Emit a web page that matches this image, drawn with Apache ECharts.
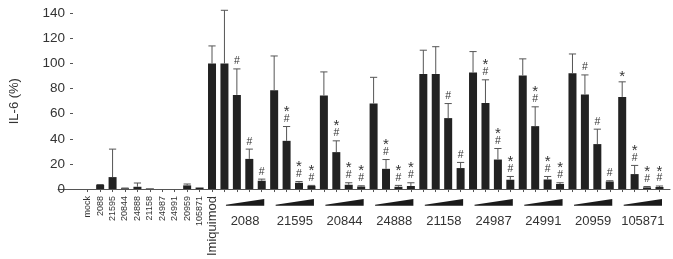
<!DOCTYPE html>
<html>
<head>
<meta charset="utf-8">
<script src="https://cdn.jsdelivr.net/npm/echarts@6/dist/echarts.min.js"></script>
<style>html,body{margin:0;padding:0;background:#fff}#c{width:673px;height:259px}</style>
</head>
<body>
<div id="c"></div>
<script>
// ---- data ----
const categories = ['mock','2088','21595','20844','24888','21158','24987','24991','20959','105871','Imiquimod'];
const singleValues = [0, 3.2, 9.5, 0.6, 1.8, 0.5, 0, 0, 2.9, 1.2, 100];
const singleUpper  = [0, 3.6, 31.8, 0.8, 4.8, 0.6, 0, 0, 4.0, 1.3, 114];
const singleMarks  = ['','','','','','','','','','',''];
const groups = ['2088','21595','20844','24888','21158','24987','24991','20959','105871'];
const groupValues = [
  [100, 75, 24, 6.6],
  [78.7, 38.4, 5, 2.6],
  [74.5, 29.4, 3.4, 2],
  [68.2, 16.1, 1.8, 2.4],
  [91.7, 91.7, 56.5, 16.7],
  [92.8, 68.6, 23.5, 7.4],
  [90.5, 50.1, 7.6, 4],
  [92.3, 75.3, 35.8, 6],
  [73.4, 11.9, 1.3, 1.6]
];
const groupUpper = [
  [142.4, 95.7, 31.8, 7.9],
  [106, 49.8, 6, 2.9],
  [93.3, 38.4, 5, 2.6],
  [89, 23.5, 2.9, 5],
  [110.6, 113.4, 68.1, 21.2],
  [109.5, 87, 32.3, 10],
  [103.7, 65.5, 10, 5],
  [107.6, 90.9, 47.7, 6.6],
  [85.4, 18.8, 2, 2.4]
];
const groupMarks = [
  ['', '#', '#', '#'],
  ['', '*#', '*#', '*#'],
  ['', '*#', '*#', '*#'],
  ['', '*#', '*#', '*#'],
  ['', '', '#', '#'],
  ['', '*#', '*#', '*#'],
  ['', '*#', '*#', '*#'],
  ['', '#', '#', '#'],
  ['*', '*#', '*#', '*#']
];
const yTicks = [0, 20, 40, 60, 80, 100, 120, 140];

// ---- build ----
const xLabels = categories.concat(groups.flatMap(g => [1,2,3,4].map(k => g + '_' + k)));
const values = singleValues.concat(groupValues.flat());
const uppers = singleUpper.concat(groupUpper.flat());
const marks = singleMarks.concat(groupMarks.flat());
const nSingle = categories.length;

const FONT = 'Liberation Sans, Arial, sans-serif';
const TOP = 13.3, BOTTOM = 259 - 189.3;
const chart = echarts.init(document.getElementById('c'), null, {renderer: 'canvas'});

chart.setOption({
  animation: false,
  backgroundColor: '#fff',
  grid: [
    {left: 66.9, right: 7.3, top: TOP, bottom: BOTTOM, containLabel: false},
    {left: 58, right: 3, top: TOP, bottom: BOTTOM, containLabel: false}
  ],
  xAxis: [
    {
      type: 'category', gridIndex: 0, data: xLabels, boundaryGap: true,
      axisLine: {show: false},
      axisTick: {show: true, alignWithLabel: true, interval: 0, length: 3, lineStyle: {color: '#555'}},
      axisLabel: {
        interval: 0, rotate: 90, margin: 7, fontSize: 9, color: '#333', fontFamily: FONT,
        formatter: (v, i) => i < nSingle - 1 ? v : (i === nSingle - 1 ? '{big|' + v + '}' : ''),
        rich: {big: {fontSize: 13, color: '#333', fontFamily: FONT}}
      }
    },
    {
      type: 'value', gridIndex: 1, min: 0, max: 1,
      axisLine: {show: true, lineStyle: {color: '#555', width: 1}},
      axisTick: {show: false}, axisLabel: {show: false}, splitLine: {show: false}
    }
  ],
  yAxis: [
    {
      type: 'value', gridIndex: 0, min: 0, max: 140, interval: 20, offset: 8.5,
      name: 'IL-6 (%)', nameLocation: 'middle', nameGap: 52,
      nameTextStyle: {fontSize: 13, color: '#333', fontFamily: FONT},
      axisLine: {show: false},
      axisTick: {show: true, length: 3, lineStyle: {color: '#555'}},
      axisLabel: {fontSize: 13.5, color: '#333', margin: 8, fontFamily: FONT,
        formatter: v => yTicks.includes(v) ? String(v) : ''},
      splitLine: {show: false}
    },
    {type: 'value', gridIndex: 1, show: false, min: 0, max: 1}
  ],
  series: [
    {
      type: 'bar', xAxisIndex: 0, yAxisIndex: 0, data: values, barWidth: 8,
      itemStyle: {color: '#222'}, z: 2
    },
    {
      type: 'custom', xAxisIndex: 0, yAxisIndex: 0, clip: false, z: 3,
      data: values.map((v, i) => [i, v, uppers[i]]),
      encode: {x: 0, y: [1, 2]},
      renderItem: function (params, api) {
        const i = api.value(0);
        const base = api.coord([i, api.value(1)]);
        const top = api.coord([i, api.value(2)]);
        const children = [];
        const st = {stroke: '#555', lineWidth: 1};
        if (api.value(2) - api.value(1) > 0.2) {
          children.push({type: 'line', shape: {x1: top[0], y1: base[1], x2: top[0], y2: top[1]}, style: st});
          children.push({type: 'line', shape: {x1: top[0] - 3.6, y1: top[1], x2: top[0] + 3.6, y2: top[1]}, style: st});
        }
        const m = marks[params.dataIndex];
        const yT = Math.min(top[1], base[1]);
        if (m === '*#') {
          children.push({type: 'text', style: {x: top[0], y: yT - 7.5, text: '#', fontSize: 10.5, fill: '#333', align: 'center', verticalAlign: 'middle', fontFamily: FONT}});
          children.push({type: 'text', style: {x: top[0], y: yT - 14.5, text: '*', fontSize: 15, fill: '#333', align: 'center', verticalAlign: 'middle', fontFamily: FONT}});
        } else if (m === '#') {
          children.push({type: 'text', style: {x: top[0], y: yT - 7.5, text: '#', fontSize: 10.5, fill: '#333', align: 'center', verticalAlign: 'middle', fontFamily: FONT}});
        } else if (m === '*') {
          children.push({type: 'text', style: {x: top[0], y: yT - 4.5, text: '*', fontSize: 15, fill: '#333', align: 'center', verticalAlign: 'middle', fontFamily: FONT}});
        }
        return {type: 'group', children: children};
      }
    },
    {
      type: 'custom', xAxisIndex: 0, yAxisIndex: 0, clip: false, z: 3,
      data: groups.map((g, gi) => [nSingle + gi * 4, nSingle + gi * 4 + 3, 0]),
      encode: {x: [0, 1], y: 2},
      renderItem: function (params, api) {
        const p0 = api.coord([api.value(0), 0]);
        const p1 = api.coord([api.value(1), 0]);
        const y0 = p0[1];
        const xa = p0[0] + 1.5, xb = p1[0] + 2.5;
        return {type: 'group', children: [
          {type: 'polygon', shape: {points: [[xa, y0 + 15.6], [xb, y0 + 10], [xb, y0 + 16.8], [xa, y0 + 16.8]]}, style: {fill: '#1a1a1a'}},
          {type: 'text', style: {x: (p0[0] + p1[0]) / 2 + 2, y: y0 + 32.4, text: groups[params.dataIndex], fontSize: 13, fill: '#333', align: 'center', verticalAlign: 'middle', fontFamily: FONT}}
        ]};
      }
    }
  ]
});
</script>
</body>
</html>
